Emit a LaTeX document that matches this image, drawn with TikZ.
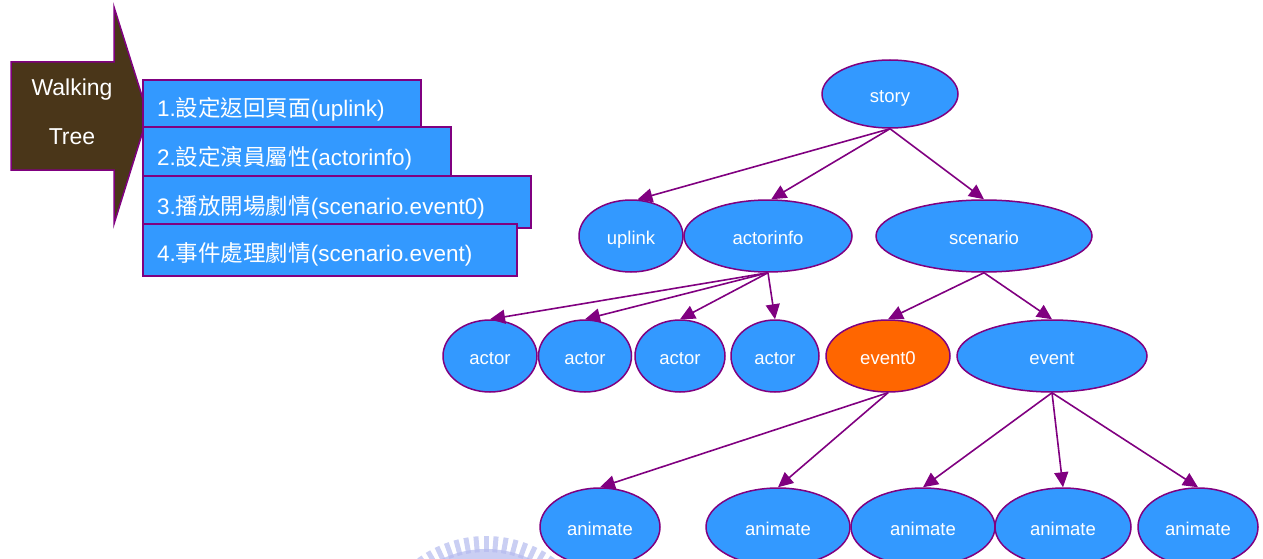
\documentclass[tikz,border=0pt]{standalone}
\usepackage{fontspec}
\setmainfont{Liberation Sans}
\newfontfamily\cjk{Noto Sans CJK TC}
\usetikzlibrary{shapes.geometric,arrows.meta}
\definecolor{nodeblue}{HTML}{3399FF}
\definecolor{nodeorange}{HTML}{FF6600}
\definecolor{edgepurple}{HTML}{800080}
\definecolor{arrowbrown}{HTML}{4A3619}
\definecolor{sealblue}{HTML}{B4BAEE}
\tikzset{
  treenode/.style={ellipse, draw=edgepurple, line width=1.5pt, fill=nodeblue,
    text=white, inner sep=0pt, text height=17pt, text depth=0pt,
    font=\fontsize{18.5}{18.5}\selectfont},
  hotnode/.style={treenode, fill=nodeorange},
  link/.style={draw=edgepurple, line width=1.6pt, -{Triangle[length=15pt,width=14pt]}},
  stepbox/.style={draw=edgepurple, line width=1.5pt, fill=nodeblue},
  steptext/.style={anchor=west, text=white, inner sep=0pt, font=\fontsize{22.5}{22.5}\selectfont},
  walktext/.style={text=white, font=\fontsize{23}{23}\selectfont}
}
\begin{document}
\begin{tikzpicture}[x=1pt,y=-1pt]
\useasboundingbox (0,0) rectangle (1263,559);

% faint seal at the lower edge
\begin{scope}
  \clip (0,0) rectangle (1263,559);
  \fill[sealblue, opacity=0.7] (486,652) circle (103);
  \foreach \a in {40,45,...,140}
    \draw[sealblue, opacity=0.7, line width=5pt] (486,652) ++(-\a:100) -- ++(-\a:16);
\end{scope}

% big "Walking Tree" arrow
\fill[arrowbrown, draw=edgepurple, line width=1.5pt]
  (11,62) -- (114,62) -- (114,7) -- (148,115) -- (114,224) -- (114,170) -- (11,170) -- cycle;
\node[walktext] (walk) at (72,90) {Walking};
\node[walktext] (tree) at (72,137) {Tree};

% step boxes
\draw[stepbox] (143,80) rectangle (421,127);
\node[steptext] (s1) at (157,109) {1.{\cjk 設定返回頁面}(uplink)};
\draw[stepbox] (143,127) rectangle (451,176);
\node[steptext] (s2) at (157,158) {2.{\cjk 設定演員屬性}(actorinfo)};
\draw[stepbox] (143,176) rectangle (531,228);
\node[steptext] (s3) at (157,207) {3.{\cjk 播放開場劇情}(scenario.event0)};
\draw[stepbox] (143,224) rectangle (517,276);
\node[steptext] (s4) at (157,254) {4.{\cjk 事件處理劇情}(scenario.event)};

% tree nodes
\node[treenode, minimum width=136pt, minimum height=68pt] (story) at (890,94) {story};
\node[treenode, minimum width=104pt, minimum height=72pt] (uplink) at (631,236) {uplink};
\node[treenode, minimum width=168pt, minimum height=72pt] (actorinfo) at (768,236) {actorinfo};
\node[treenode, minimum width=216pt, minimum height=72pt] (scenario) at (984,236) {scenario};

\node[treenode, minimum width=94pt, minimum height=72pt] (actor1) at (490,356) {actor};
\node[treenode, minimum width=93pt, minimum height=72pt] (actor2) at (585,356) {actor};
\node[treenode, minimum width=90pt, minimum height=72pt] (actor3) at (680,356) {actor};
\node[treenode, minimum width=88pt, minimum height=72pt] (actor4) at (775,356) {actor};
\node[hotnode, minimum width=124pt, minimum height=72pt] (event0) at (888,356) {event0};
\node[treenode, minimum width=190pt, minimum height=72pt] (event) at (1052,356) {event};

\node[treenode, minimum width=120pt, minimum height=78pt] (anim1) at (600,527) {animate};
\node[treenode, minimum width=144pt, minimum height=78pt] (anim2) at (778,527) {animate};
\node[treenode, minimum width=144pt, minimum height=78pt] (anim3) at (923,527) {animate};
\node[treenode, minimum width=136pt, minimum height=78pt] (anim4) at (1063,527) {animate};
\node[treenode, minimum width=120pt, minimum height=78pt] (anim5) at (1198,527) {animate};

% connectors
\draw[link] (story.south) -- (uplink.80);
\draw[link] (story.south) -- (actorinfo.85);
\draw[link] (story.south) -- (scenario.north);
\draw[link] (actorinfo.south) -- (actor1.north);
\draw[link] (actorinfo.south) -- (actor2.north);
\draw[link] (actorinfo.south) -- (actor3.north);
\draw[link] (actorinfo.south) -- (actor4.north);
\draw[link] (scenario.south) -- (event0.north);
\draw[link] (scenario.south) -- (event.north);
\draw[link] (event0.south) -- (anim1.north);
\draw[link] (event0.south) -- (anim2.north);
\draw[link] (event.south) -- (anim3.north);
\draw[link] (event.south) -- (anim4.north);
\draw[link] (event.south) -- (anim5.north);
\end{tikzpicture}
\end{document}
